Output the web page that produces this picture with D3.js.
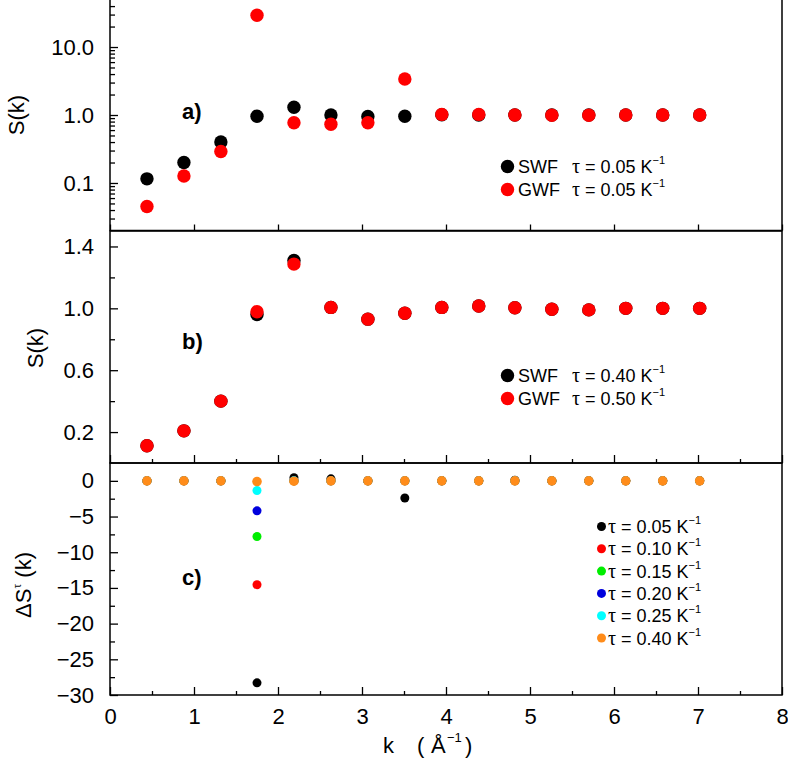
<!DOCTYPE html>
<html>
<head>
<meta charset="utf-8">
<script src="https://cdn.jsdelivr.net/npm/d3@7"></script>
<style>
  html, body { margin: 0; padding: 0; background: #fff; }
  svg { display: block; font-family: "Liberation Sans", Arial, Helvetica, sans-serif; }
</style>
</head>
<body>
<script>
// ---------------- data ----------------
const kValues = [0.44, 0.88, 1.32, 1.75, 2.19, 2.63, 3.07, 3.51, 3.95, 4.39, 4.82, 5.26, 5.70, 6.14, 6.58, 7.02];

// panel a (log scale), tau = 0.05
const swfA = [0.115, 0.20, 0.40, 0.96, 1.30, 1.00, 0.95, 0.96, 1.01, 1.00, 1.00, 1.00, 1.00, 1.00, 1.00, 1.00];
const gwfA = [0.045, 0.127, 0.29, 29.3, 0.77, 0.73, 0.77, 3.38, 1.02, 1.02, 1.00, 0.99, 0.99, 1.00, 1.00, 1.00];

// panel b
const swfB = [0.112, 0.208, 0.40, 0.96, 1.31, 1.006, 0.93, 0.968, 1.006, 1.015, 1.004, 0.994, 0.99, 1.0, 1.0, 1.0];
const gwfB = [0.112, 0.208, 0.40, 0.978, 1.286, 1.006, 0.93, 0.968, 1.006, 1.015, 1.004, 0.994, 0.99, 1.0, 1.0, 1.0];

// panel c : Delta S^tau(k)
const dS005 = [0, 0, 0, -28.3, 0.45, 0.28, 0, -2.4, 0, 0, 0.1, 0, 0, 0, 0, 0];
const dS010 = [0, 0, 0, -14.55, 0, 0, 0, 0, 0, 0, 0, 0, 0, 0, 0, 0];
const dS015 = [0, 0, 0, -7.8, 0, 0, 0, 0, 0, 0, 0, 0, 0, 0, 0, 0];
const dS020 = [0, 0, 0, -4.2, 0, 0, 0, 0, 0, 0, 0, 0, 0, 0, 0, 0];
const dS025 = [0, 0, 0, -1.36, 0, 0, 0, 0, 0, 0, 0, 0, 0, 0, 0, 0];
const dS040 = [0, 0, 0, -0.1, -0.05, 0, 0, 0, 0, 0, 0, 0, 0, 0, 0, 0];

const legendA = [{name: "SWF", tau: "0.05"}, {name: "GWF", tau: "0.05"}];
const legendB = [{name: "SWF", tau: "0.40"}, {name: "GWF", tau: "0.50"}];
const legendC = ["0.05", "0.10", "0.15", "0.20", "0.25", "0.40"];
const colorsC = ["#000000", "#ff0000", "#00ee00", "#0000dd", "#00ffff", "#ff8c1a"];
const seriesC = [dS005, dS010, dS015, dS020, dS025, dS040];

const xTicks = [0, 1, 2, 3, 4, 5, 6, 7, 8];
const xMinor = [0.5, 1.5, 2.5, 3.5, 4.5, 5.5, 6.5, 7.5];
const yTicksA = [0.1, 1, 10];
const yTickLabelsA = ["0.1", "1.0", "10.0"];
const yMinorA = [0.03, 0.04, 0.05, 0.06, 0.07, 0.08, 0.09, 0.2, 0.3, 0.4, 0.5, 0.6, 0.7, 0.8, 0.9, 2, 3, 4, 5, 6, 7, 8, 9, 20, 30, 40];
const yTicksB = [0.2, 0.6, 1.0, 1.4];
const yMinorB = [0.4, 0.8, 1.2];
const yTicksC = [0, -5, -10, -15, -20, -25, -30];
const yMinorC = [-2.5, -7.5, -12.5, -17.5, -22.5, -27.5];

// ---------------- layout ----------------
const W = 788, H = 775;
const svg = d3.select("body").append("svg").attr("width", W).attr("height", H);

const x = d3.scaleLinear().domain([0, 8]).range([110, 782]);
const yA = d3.scaleLog().domain([0.02, 50]).range([230.5, -0.5]);
const yB = d3.scaleLinear().domain([0, 1.5]).range([463, 231]);
const yC = d3.scaleLinear().domain([-30, 2.5]).range([695, 463]);

const FS = 22;
const minus = s => String(s).replace("-", "\u2212");

function styleAxis(g) {
  g.select(".domain").remove();
  g.selectAll(".tick line").attr("stroke", "#000").attr("stroke-width", 1.3);
  g.selectAll(".tick text").attr("fill", "#000").attr("font-size", FS)
    .attr("font-family", "'Liberation Sans', Arial, sans-serif");
}

// frame: left, right, bottom (+ top optionally)
function frame(y, withTop) {
  const [b, t] = y.range();
  const x0 = x(0), x1 = x(8);
  const path = withTop
    ? `M${x0},${b}V${t}H${x1}V${b}Z`
    : `M${x0},${t}V${b}H${x1}V${t}`;
  svg.append("path").attr("d", path)
    .attr("fill", "none").attr("stroke", "#000").attr("stroke-width", 1.5);
}

// y axes
function yAxis(y, ticks, fmt, minor) {
  svg.append("g").attr("transform", `translate(${x(0)},0)`)
    .call(d3.axisLeft(y).tickValues(ticks).tickFormat(fmt).tickSizeInner(-8).tickSizeOuter(0).tickPadding(16))
    .call(styleAxis);
  svg.append("g").attr("transform", `translate(${x(0)},0)`)
    .call(d3.axisLeft(y).tickValues(minor).tickFormat("").tickSizeInner(-5).tickSizeOuter(0))
    .call(styleAxis);
}
yAxis(yA, yTicksA, (d, i) => yTickLabelsA[i], yMinorA);
yAxis(yB, yTicksB, d => d3.format(".1f")(d), yMinorB);
yAxis(yC, yTicksC, d => minus(d), yMinorC);

// x-axes (ticks pointing up into each panel)
function xAxis(y, majorLen, minorLen, labels) {
  const yb = y.range()[0];
  svg.append("g").attr("transform", `translate(0,${yb})`)
    .call(d3.axisBottom(x).tickValues(xTicks).tickFormat(labels ? d3.format("d") : "")
      .tickSizeInner(-majorLen).tickSizeOuter(0).tickPadding(13))
    .call(styleAxis);
  if (minorLen) {
    svg.append("g").attr("transform", `translate(0,${yb})`)
      .call(d3.axisBottom(x).tickValues(xMinor).tickFormat("").tickSizeInner(-minorLen).tickSizeOuter(0))
      .call(styleAxis);
  }
}
xAxis(yA, 6, 0, false);
xAxis(yB, 8, 4, false);
xAxis(yC, 8, 4, true);

frame(yA, false); frame(yB, true); frame(yC, true);

// ---------------- points ----------------
function dots(y, vals, color, r) {
  svg.append("g").selectAll("circle")
    .data(vals.map((v, i) => ({k: kValues[i], v})))
    .join("circle")
    .attr("cx", d => x(d.k)).attr("cy", d => y(d.v))
    .attr("r", r).attr("fill", color);
}
dots(yA, swfA, "#000", 6.7);
dots(yA, gwfA, "#ff0000", 6.7);
dots(yB, swfB, "#000", 6.7);
dots(yB, gwfB, "#ff0000", 6.7);
seriesC.forEach((s, i) => dots(yC, s, colorsC[i], i === 5 ? 4.8 : 4.5));

// ---------------- labels ----------------
function yTitle(tx, ty, build) {
  const t = svg.append("text").attr("transform", `translate(${tx},${ty}) rotate(-90)`)
    .attr("text-anchor", "middle").attr("font-size", FS).attr("fill", "#000");
  build(t);
}
yTitle(24, 115, t => t.text("S(k)"));
yTitle(43, 348, t => t.text("S(k)"));
yTitle(31, 585, t => {
  t.append("tspan").text("\u0394S");
  t.append("tspan").attr("font-size", 12).attr("dy", -10)
    .attr("font-family", "'Liberation Serif', 'DejaVu Serif', serif").text("\u03C4");
  t.append("tspan").attr("dy", 10).text(" (k)");
});

// panel tags
[["a)", 119], ["b)", 349], ["c)", 585]].forEach(([s, yy]) => {
  svg.append("text").attr("x", 182).attr("y", yy).attr("font-size", FS)
    .attr("font-weight", "bold").attr("fill", "#000").text(s);
});

// x title
const xt = svg.append("text").attr("y", 753).attr("font-size", FS).attr("fill", "#000");
xt.append("tspan").attr("x", 383).text("k");
xt.append("tspan").attr("x", 417).text("(");
xt.append("tspan").attr("x", 431).text("\u00C5");
xt.append("tspan").attr("x", 447).attr("dy", -11).attr("font-size", 13).text("\u22121");
xt.append("tspan").attr("x", 465).attr("dy", 11).text(")");

// ---------------- legends ----------------
function tauText(g, x0, yy, val, fs) {
  const t = g.append("text").attr("x", x0).attr("y", yy).attr("font-size", fs).attr("fill", "#000");
  t.append("tspan").attr("font-family", "'Liberation Serif', 'DejaVu Serif', serif")
    .attr("font-size", fs + 2).text("\u03C4");
  t.append("tspan").text(" = " + val + " K");
  t.append("tspan").attr("font-size", 11).attr("dy", -9).text("\u22121");
}
function legendAB(items, y0, colors) {
  const g = svg.append("g");
  items.forEach((d, i) => {
    const yy = y0 + i * 23;
    g.append("circle").attr("cx", 507.5).attr("cy", yy).attr("r", 6.7).attr("fill", colors[i]);
    g.append("text").attr("x", 518).attr("y", yy + 6.5).attr("font-size", 18).attr("fill", "#000").text(d.name);
    tauText(g, 572, yy + 6.5, d.tau, 18);
  });
}
legendAB(legendA, 166.5, ["#000", "#ff0000"]);
legendAB(legendB, 375.5, ["#000", "#ff0000"]);

const gc = svg.append("g");
legendC.forEach((v, i) => {
  const yy = 526.5 + i * 22.3;
  gc.append("circle").attr("cx", 601.5).attr("cy", yy).attr("r", 4.5).attr("fill", colorsC[i]);
  tauText(gc, 608, yy + 6.5, v, 18);
});
</script>
</body>
</html>
